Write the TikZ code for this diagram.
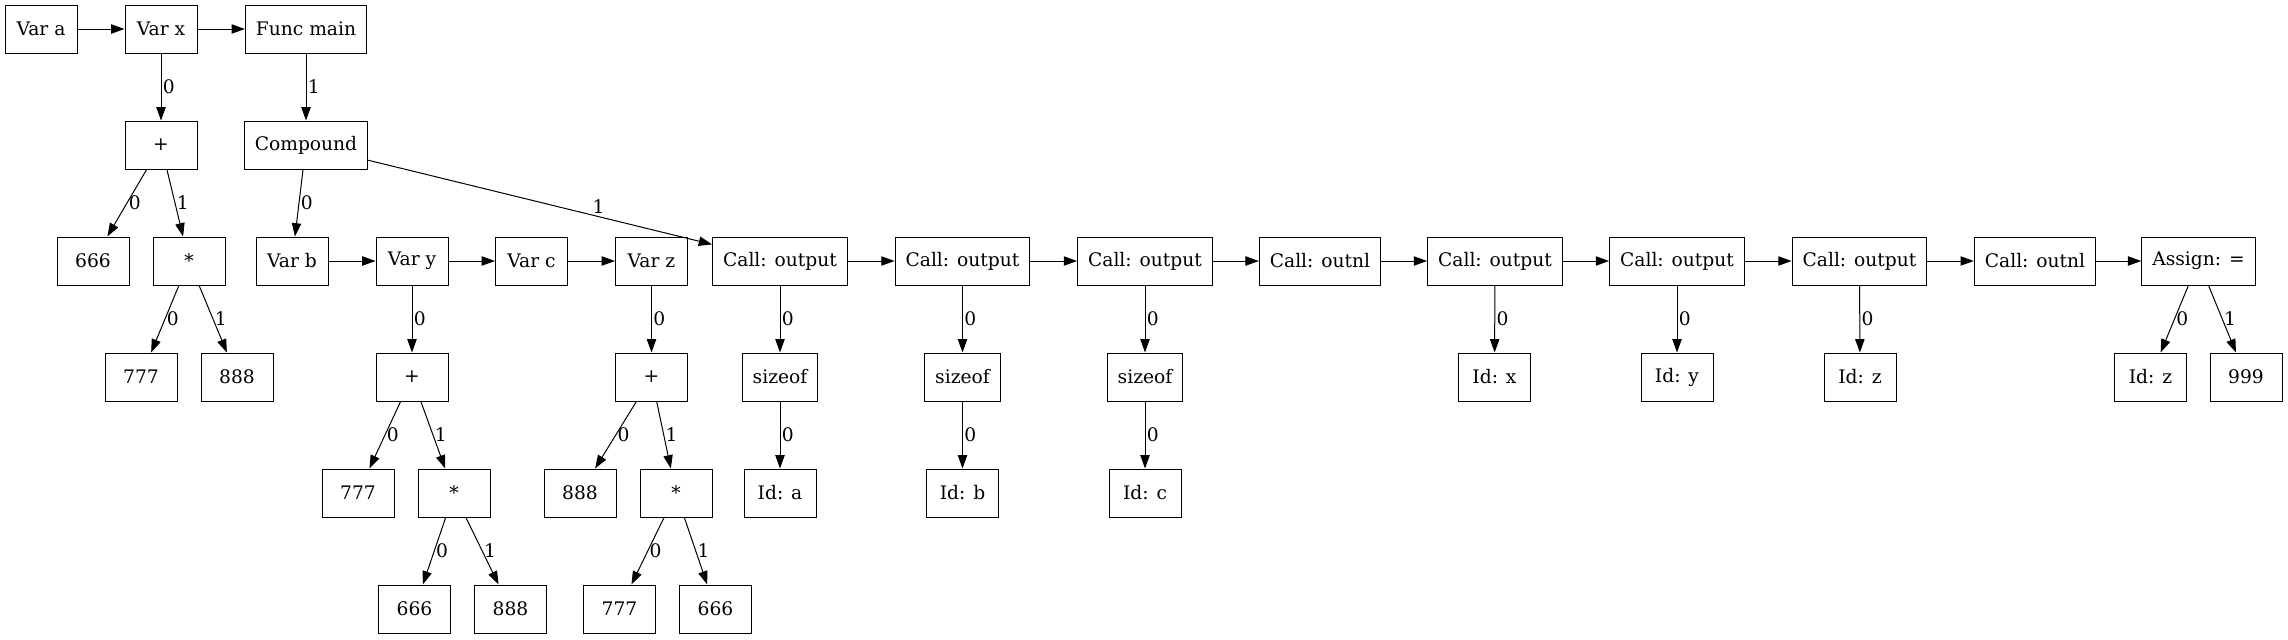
\documentclass[tikz,border=0pt]{standalone}
\usepackage{fontspec}
\setmainfont{DejaVu Serif}
\usetikzlibrary{arrows.meta}

\tikzset{every picture/.style={line width=0.75pt}}
\tikzset{
  box/.style={draw, rectangle, minimum width=54pt, minimum height=36pt, inner xsep=7.9pt, inner ysep=4pt, font=\fontsize{14pt}{16pt}\selectfont},
  elabel/.style={midway, right, inner sep=1pt, font=\fontsize{14pt}{16pt}\selectfont},
}

\begin{document}
\begin{tikzpicture}[x=0.75pt,y=0.75pt,yscale=-1,xscale=1, >={Triangle[length=10pt,width=7pt]}]
\useasboundingbox (0,0) rectangle (2288,639);

% Row 1
\draw (41,29) node [box] (vara) {Var a};
\draw (161,29) node [box] (varx) {Var x};
\draw (306,29) node [box] (funcmain) {Func main};
% Row 2
\draw (161,145) node [box] (plusa) {+};
\draw (306,145) node [box] (compound) {Compound};
% Row 3
\draw (93,261) node [box] (sixa) {666};
\draw (189,261) node [box] (mula) {*};
\draw (292,261) node [box] (varb) {Var b};
\draw (412,261) node [box] (vary) {Var y};
\draw (531.5,261) node [box] (varc) {Var c};
\draw (651.5,261) node [box] (varz) {Var z};
\draw (780,261) node [box] (calla) {Call: output};
\draw (962.5,261) node [box] (callb) {Call: output};
\draw (1145,261) node [box] (callc) {Call: output};
\draw (1320,261) node [box] (outnla) {Call: outnl};
\draw (1495,261) node [box] (calld) {Call: output};
\draw (1677,261) node [box] (calle) {Call: output};
\draw (1859.5,261) node [box] (callf) {Call: output};
\draw (2035,261) node [box] (outnlb) {Call: outnl};
\draw (2198.5,261) node [box] (assign) {Assign: =};
% Row 4
\draw (141,377) node [box] (sevena) {777};
\draw (237,377) node [box] (eighta) {888};
\draw (412,377) node [box] (plusb) {+};
\draw (651.5,377) node [box] (plusc) {+};
\draw (780,377) node [box] (sizeofa) {sizeof};
\draw (962.5,377) node [box] (sizeofb) {sizeof};
\draw (1145,377) node [box] (sizeofc) {sizeof};
\draw (1494.5,377) node [box] (idx) {Id: x};
\draw (1677,377) node [box] (idy) {Id: y};
\draw (1860,377) node [box] (idz) {Id: z};
\draw (2150.5,377) node [box] (idzz) {Id: z};
\draw (2246,377) node [box] (nine) {999};
% Row 5
\draw (358,493) node [box] (sevenb) {777};
\draw (454,493) node [box] (mulb) {*};
\draw (580,493) node [box] (eightb) {888};
\draw (676,493) node [box] (mulc) {*};
\draw (780,493) node [box] (ida) {Id: a};
\draw (962.5,493) node [box] (idb) {Id: b};
\draw (1145,493) node [box] (idc) {Id: c};
% Row 6
\draw (414.5,609) node [box] (sixb) {666};
\draw (510.5,609) node [box] (eightc) {888};
\draw (619.5,609) node [box] (sevenc) {777};
\draw (715.5,609) node [box] (sixc) {666};

% Sequence edges
\draw [->] (vara) -- (varx);
\draw [->] (varx) -- (funcmain);
\draw [->] (varb) -- (vary);
\draw [->] (vary) -- (varc);
\draw [->] (varc) -- (varz);
\draw [->] (calla) -- (callb);
\draw [->] (callb) -- (callc);
\draw [->] (callc) -- (outnla);
\draw [->] (outnla) -- (calld);
\draw [->] (calld) -- (calle);
\draw [->] (calle) -- (callf);
\draw [->] (callf) -- (outnlb);
\draw [->] (outnlb) -- (assign);

% Child edges
\draw [->] (varx) -- (plusa) node [elabel] {0};
\draw [->] (funcmain) -- (compound) node [elabel] {1};
\draw [->] (plusa) -- (sixa) node [elabel] {0};
\draw [->] (plusa) -- (mula) node [elabel] {1};
\draw [->] (mula) -- (sevena) node [elabel] {0};
\draw [->] (mula) -- (eighta) node [elabel] {1};
\draw [->] (compound) -- (varb) node [elabel] {0};
\draw [->] (compound) -- (calla) node [pos=0.67, above, inner sep=2pt, font=\fontsize{14pt}{16pt}\selectfont] {1};
\draw [->] (vary) -- (plusb) node [elabel] {0};
\draw [->] (plusb) -- (sevenb) node [elabel] {0};
\draw [->] (plusb) -- (mulb) node [elabel] {1};
\draw [->] (mulb) -- (sixb) node [elabel] {0};
\draw [->] (mulb) -- (eightc) node [elabel] {1};
\draw [->] (varz) -- (plusc) node [elabel] {0};
\draw [->] (plusc) -- (eightb) node [elabel] {0};
\draw [->] (plusc) -- (mulc) node [elabel] {1};
\draw [->] (mulc) -- (sevenc) node [elabel] {0};
\draw [->] (mulc) -- (sixc) node [elabel] {1};
\draw [->] (calla) -- (sizeofa) node [elabel] {0};
\draw [->] (sizeofa) -- (ida) node [elabel] {0};
\draw [->] (callb) -- (sizeofb) node [elabel] {0};
\draw [->] (sizeofb) -- (idb) node [elabel] {0};
\draw [->] (callc) -- (sizeofc) node [elabel] {0};
\draw [->] (sizeofc) -- (idc) node [elabel] {0};
\draw [->] (calld) -- (idx) node [elabel] {0};
\draw [->] (calle) -- (idy) node [elabel] {0};
\draw [->] (callf) -- (idz) node [elabel] {0};
\draw [->] (assign) -- (idzz) node [elabel] {0};
\draw [->] (assign) -- (nine) node [elabel] {1};

\end{tikzpicture}
\end{document}
